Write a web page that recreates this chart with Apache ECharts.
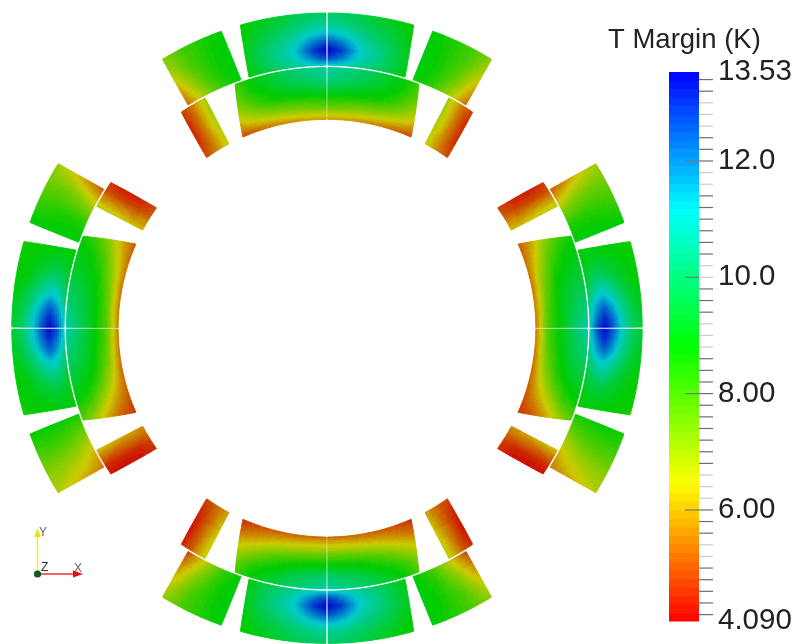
<!DOCTYPE html>
<html>
<head>
<meta charset="utf-8">
<style>html,body{margin:0;padding:0;background:#fff}#c{width:799px;height:644px;filter:blur(0.45px)}</style>
<script src="https://cdn.jsdelivr.net/npm/echarts@6/dist/echarts.min.js"></script>
</head>
<body>
<div id="c"></div>
<script>
// ---- Colour scale ----
const scaleMin = 4.09, scaleMax = 13.53, bandCount = 64;
const scaleStops = ['#ff0000', '#ffff00', '#00ff00', '#00ffff', '#0000ff'];
const labelValues = [4.09, 6, 8, 10, 12, 13.53];
const labelTexts = ['4.090', '6.00', '8.00', '10.0', '12.0', '13.53'];
const darkTicks = [4.2,4.4,4.6,4.8,5.0,5.6,5.8,6,6.8,7.0,7.2,7.4,7.6,7.8,8,8.2,8.4,8.6,9.4,9.6,9.8,10.4,10.6,10.8,11.0,11.2,11.4,12,12.2,12.4,13.2,13.4];
const lightTicks = [5.2,5.4,6.2,6.4,6.6,8.8,9.0,9.2,10,10.2,11.6,11.8,12.6,12.8,13.0];
const majorTicks = [6, 8, 10, 12];

// ---- Field samples T margin (K): rows inner radius -> outer radius, columns midplane -> far end ----
const outerMainVertical = [
 [11.0,10.9,10.7,10.4,10.0,9.5,8.9],
 [12.8,12.4,11.7,10.9,10.3,9.7,9.0],
 [13.5,13.1,12.3,11.2,10.5,9.8,9.1],
 [12.7,12.3,11.7,10.9,10.3,9.8,9.1],
 [11.5,11.3,11.0,10.5,10.0,9.6,9.0],
 [10.5,10.4,10.2,9.9,9.6,9.3,8.9],
 [9.9,9.9,9.8,9.6,9.3,9.0,8.7]];
const outerMainHorizontal = [
 [10.9,10.7,10.3,9.8,9.3,9.0,8.8],
 [12.7,12.3,11.7,10.9,9.9,9.2,8.9],
 [13.5,13.1,12.5,11.4,10.2,9.4,8.9],
 [12.5,12.2,11.7,10.8,9.9,9.2,8.9],
 [11.2,11.1,10.7,10.2,9.5,9.1,8.8],
 [10.0,9.9,9.7,9.4,9.0,8.9,8.7],
 [9.4,9.3,9.2,9.0,8.9,8.7,8.6]];
const innerMainTop = [
 [5.8,5.8,5.7,5.5,5.2,4.9],
 [7.7,7.6,7.4,7.2,6.8,6.2],
 [9.0,8.9,8.8,8.6,8.0,7.1],
 [10.2,9.9,9.6,9.2,8.7,7.8],
 [10.7,10.4,10.0,9.5,9.0,8.2]];
const innerMainBottom = [
 [5.3,5.3,5.2,5.1,4.9,4.6],
 [6.9,6.9,6.7,6.4,5.9,5.4],
 [8.6,8.5,8.3,7.9,7.2,6.5],
 [9.9,9.7,9.4,8.9,8.4,7.4],
 [10.7,10.4,10.0,9.5,9.0,8.1]];
const innerMainUpper = [
 [5.4,5.4,5.4,5.4,5.3,5.1],
 [8.0,7.9,7.6,7.2,6.6,6.0],
 [9.0,9.0,8.9,8.6,8.0,7.2],
 [9.9,9.7,9.5,9.1,8.8,8.1],
 [10.7,10.3,9.8,9.4,9.1,8.7]];
const innerMainLower = [
 [5.4,5.4,5.3,5.2,5.0,4.7],
 [8.0,7.8,7.4,6.7,5.9,5.1],
 [9.0,8.9,8.7,8.1,7.0,5.9],
 [9.9,9.7,9.4,9.0,8.2,6.9],
 [10.7,10.3,9.8,9.3,8.8,7.8]];
const sideOuterTop = [
 [8.9,8.3,7.0,5.3],[9.0,8.6,7.6,6.0],[9.0,8.6,8.0,6.8],[8.9,8.5,8.1,7.3]];
const sideOuterBottom = [
 [8.9,8.1,6.6,4.9],[9.0,8.5,7.3,5.7],[9.0,8.6,7.9,6.5],[8.9,8.5,8.0,7.1]];
const sideOuterUpper = [
 [9.0,8.4,6.8,5.1],[9.0,8.5,7.4,5.8],[8.9,8.4,7.7,6.5],[8.9,8.2,7.6,7.0]];
const sideOuterLower = [
 [8.6,7.4,6.3,5.5],[8.7,7.9,6.9,6.0],[8.8,8.1,7.2,6.4],[8.7,8.1,7.3,6.8]];
const sideInnerTop = [
 [6.6,6.0,5.4,4.9],[6.8,6.1,5.2,4.6],[7.0,6.2,5.2,4.5],[7.0,6.1,5.3,4.8]];
const sideInnerBottom = [
 [6.0,5.5,5.1,4.8],[6.3,5.6,4.9,4.4],[6.6,5.8,4.9,4.3],[6.7,5.9,5.0,4.5]];
const sideInnerUpper = [
 [6.2,5.7,5.1,4.9],[6.4,5.6,4.8,4.5],[6.7,5.8,4.8,4.4],[6.8,5.9,5.0,4.7]];
const sideInnerLower = [
 [5.8,5.3,4.8,4.6],[6.0,5.2,4.5,4.3],[6.2,5.3,4.5,4.2],[6.4,5.4,4.6,4.3]];

// ---- Sample positions in each block (fractions of radius span / angular span) ----
const rowsFine = [0,.15,.3,.45,.6,.8,1];
const colsFine = [0,.12,.25,.4,.6,.8,1];
const rowsMain = [0,.25,.5,.75,1];
const colsMain = [0,.2,.4,.6,.8,1];
const rowsSide = [0,1/3,2/3,1];
const colsSide = [0,1/3,2/3,1];

// ---- Block cross-sections in polar terms (radius, degrees from the quadrant axis) ----
const midGap = 0.2;
const shapes = {
  outerMain: {rIn:262.9, rOut:315.2, nearIn:midGap, nearOut:midGap, farIn:17.25, farOut:15.95, rows:rowsFine, cols:colsFine},
  innerMain: {rIn:208.8, rOut:260.6, nearIn:midGap, nearOut:midGap, farIn:23.75, farOut:20.65, rows:rowsMain, cols:colsMain},
  sideOuter: {rIn:262.9, rOut:315.2, nearIn:19.1, nearOut:19.6, farIn:31.9, farOut:31.45, rows:rowsSide, cols:colsSide},
  sideInner: {rIn:208.8, rOut:260.6, nearIn:28.0, nearOut:27.9, farIn:35.2, farOut:34.0, rows:rowsSide, cols:colsSide}
};

// quadrant axis angle (clockwise from top), direction of the half, field tables
const halves = [
  [0, 1, outerMainVertical, innerMainTop, sideOuterTop, sideInnerTop],
  [0, -1, outerMainVertical, innerMainTop, sideOuterTop, sideInnerTop],
  [180, -1, outerMainVertical, innerMainBottom, sideOuterBottom, sideInnerBottom],
  [180, 1, outerMainVertical, innerMainBottom, sideOuterBottom, sideInnerBottom],
  [90, -1, outerMainHorizontal, innerMainUpper, sideOuterUpper, sideInnerUpper],
  [90, 1, outerMainHorizontal, innerMainLower, sideOuterLower, sideInnerLower],
  [270, 1, outerMainHorizontal, innerMainUpper, sideOuterUpper, sideInnerUpper],
  [270, -1, outerMainHorizontal, innerMainLower, sideOuterLower, sideInnerLower]
];
const shapeNames = ['outerMain', 'innerMain', 'sideOuter', 'sideInner'];

// ---- Build the table the custom series reads ----
const blocks = [];
const cells = [];
halves.forEach(function (h) {
  shapeNames.forEach(function (name, k) {
    const table = h[2 + k], idx = blocks.length;
    blocks.push({axis: h[0], dir: h[1], shape: shapes[name]});
    for (let i = 0; i < table.length - 1; i++) {
      for (let j = 0; j < table[0].length - 1; j++) {
        cells.push([idx, i, j, table[i][j], table[i][j + 1], table[i + 1][j], table[i + 1][j + 1]]);
      }
    }
  });
});

const plotShade = 0.8;
function bandIndex(v) {
  return Math.max(0, Math.min(bandCount - 1, Math.floor((v - scaleMin) / (scaleMax - scaleMin) * bandCount)));
}
const barColors = [], plotColors = [];
for (let b = 0; b < bandCount; b++) {
  const c = echarts.color.parse(echarts.color.lerp((b + 0.5) / bandCount, scaleStops));
  barColors.push('rgb(' + c[0] + ',' + c[1] + ',' + c[2] + ')');
  plotColors.push('rgb(' + Math.round(c[0] * plotShade) + ',' + Math.round(c[1] * plotShade) + ',' + Math.round(c[2] * plotShade) + ')');
}
const bandRows = barColors.map(function (_, b) {
  const span = (scaleMax - scaleMin) / bandCount;
  return [scaleMin + b * span, scaleMin + (b + 1) * span, b];
});
const tickRows = darkTicks.map(function (v) { return [v, 0]; })
  .concat(lightTicks.map(function (v) { return [v, 1]; }))
  .concat(majorTicks.map(function (v) { return [v, 2]; }));

function renderCell(params, api) {
  const block = blocks[api.value(0)], s = block.shape;
  const i = api.value(1), j = api.value(2);
  const v00 = api.value(3), v01 = api.value(4), v10 = api.value(5), v11 = api.value(6);
  const u0 = s.rows[i], u1 = s.rows[i + 1], w0 = s.cols[j], w1 = s.cols[j + 1];
  function point(u, w) {
    const r = s.rIn + (s.rOut - s.rIn) * u;
    const near = s.nearIn + (s.nearOut - s.nearIn) * u;
    const far = s.farIn + (s.farOut - s.farIn) * u;
    const phi = near + (far - near) * w;
    const a = ((block.axis + block.dir * phi) % 360 + 360) % 360;
    return api.coord([r, a]);
  }
  const children = [];
  const rSpan = (u1 - u0) * (s.rOut - s.rIn);
  const nu = Math.max(1, Math.ceil(rSpan / 2));
  const aSpan = (w1 - w0) * Math.abs(s.farOut - s.nearOut) * Math.PI / 180 * s.rOut;
  const nw = Math.max(1, Math.ceil(aSpan / 2));
  for (let a = 0; a < nu; a++) {
    for (let b = 0; b < nw; b++) {
      const fa = (a + 0.5) / nu, fb = (b + 0.5) / nw;
      const v = v00 * (1 - fa) * (1 - fb) + v01 * (1 - fa) * fb + v10 * fa * (1 - fb) + v11 * fa * fb;
      const ua = u0 + (u1 - u0) * a / nu, ub = u0 + (u1 - u0) * (a + 1) / nu;
      const wa = w0 + (w1 - w0) * b / nw, wb = w0 + (w1 - w0) * (b + 1) / nw;
      const col = plotColors[bandIndex(v)];
      children.push({
        type: 'polygon',
        shape: {points: [point(ua, wa), point(ua, wb), point(ub, wb), point(ub, wa)]},
        style: {fill: col, stroke: col, lineWidth: 0.9},
        silent: true
      });
    }
  }
  return {type: 'group', children: children};
}

function renderBand(params, api) {
  const lo = api.coord([0, api.value(0)]);
  const hi = api.coord([1, api.value(1)]);
  return {
    type: 'rect',
    shape: {x: lo[0], y: hi[1], width: hi[0] - lo[0], height: lo[1] - hi[1] + 0.5},
    style: {fill: barColors[api.value(2)]}
  };
}

const tickLength = 14;
const tickColors = ['#6e6e6e', '#cccccc', '#777777'];
function renderTick(params, api) {
  const p = api.coord([1, api.value(0)]);
  const kind = api.value(1);
  const x0 = kind === 2 ? p[0] - tickLength : p[0];
  const x1 = kind === 2 ? p[0] : p[0] + tickLength;
  return {
    type: 'line',
    shape: {x1: x0, y1: p[1], x2: x1, y2: p[1]},
    style: {stroke: tickColors[kind], lineWidth: 1.2}
  };
}

const chart = echarts.init(document.getElementById('c'), null, {renderer: 'canvas'});
chart.setOption({
  animation: false,
  backgroundColor: '#ffffff',
  title: {
    text: 'T Margin (K)', left: 603, top: 21,
    textStyle: {fontFamily: 'Liberation Sans', fontSize: 27.5, fontWeight: 'normal', color: '#222222'}
  },
  polar: {center: [327.0, 328.2], radius: 315.2},
  radiusAxis: {show: false, min: 0, max: 315.2},
  angleAxis: {show: false, min: 0, max: 360, startAngle: 90},
  grid: {left: 669, top: 72, width: 30, height: 549, containLabel: false},
  xAxis: {type: 'value', min: 0, max: 1, show: false, gridIndex: 0},
  yAxis: {
    type: 'value', min: scaleMin, max: scaleMax, position: 'right', gridIndex: 0,
    axisLine: {show: false}, splitLine: {show: false}, axisTick: {show: false},
    axisLabel: {
      show: true, customValues: labelValues, margin: 19, color: '#222222', align: 'left',
      fontFamily: 'Liberation Sans', fontSize: 29.5,
      verticalAlignMinLabel: 'middle', verticalAlignMaxLabel: 'middle',
      showMinLabel: true, showMaxLabel: true, hideOverlap: false,
      formatter: function (v) {
        let best = 0;
        labelValues.forEach(function (x, n) { if (Math.abs(x - v) < Math.abs(labelValues[best] - v)) best = n; });
        return labelTexts[best];
      }
    }
  },
  series: [
    {
      type: 'custom', name: 'Field', coordinateSystem: 'polar', renderItem: renderCell,
      data: cells, silent: true, clip: false, progressive: 0, animation: false
    },
    {
      type: 'custom', name: 'Scale', coordinateSystem: 'cartesian2d', xAxisIndex: 0, yAxisIndex: 0,
      renderItem: renderBand, data: bandRows, silent: true, z: 1, clip: false, encode: {y: [0, 1]}
    },
    {
      type: 'custom', name: 'Ticks', coordinateSystem: 'cartesian2d', xAxisIndex: 0, yAxisIndex: 0,
      renderItem: renderTick, data: tickRows, silent: true, z: 3, clip: false, encode: {y: 0}
    }
  ],
  graphic: {
    elements: [
      {type: 'line', shape: {x1: 37.5, y1: 574, x2: 37.5, y2: 534}, style: {stroke: '#f2f020', lineWidth: 1.5}, silent: true},
      {type: 'polygon', shape: {points: [[37.5, 528], [34, 537], [41, 537]]}, style: {fill: '#e6e610'}, silent: true},
      {type: 'line', shape: {x1: 37.5, y1: 574, x2: 76, y2: 574}, style: {stroke: '#f03030', lineWidth: 1.5}, silent: true},
      {type: 'polygon', shape: {points: [[83, 574], [73, 570.5], [73, 577.5]]}, style: {fill: '#e01010'}, silent: true},
      {type: 'circle', shape: {cx: 37.5, cy: 574, r: 3.6}, style: {fill: '#0f5a23'}, silent: true},
      {type: 'text', x: 39, y: 527, style: {text: 'Y', fontFamily: 'Liberation Sans', fontSize: 12, fill: '#666666'}, silent: true},
      {type: 'text', x: 74, y: 563, style: {text: 'X', fontFamily: 'Liberation Sans', fontSize: 12, fill: '#666666'}, silent: true},
      {type: 'text', x: 41, y: 562, style: {text: 'Z', fontFamily: 'Liberation Sans', fontSize: 12, fill: '#333333'}, silent: true}
    ]
  }
});
</script>
</body>
</html>
